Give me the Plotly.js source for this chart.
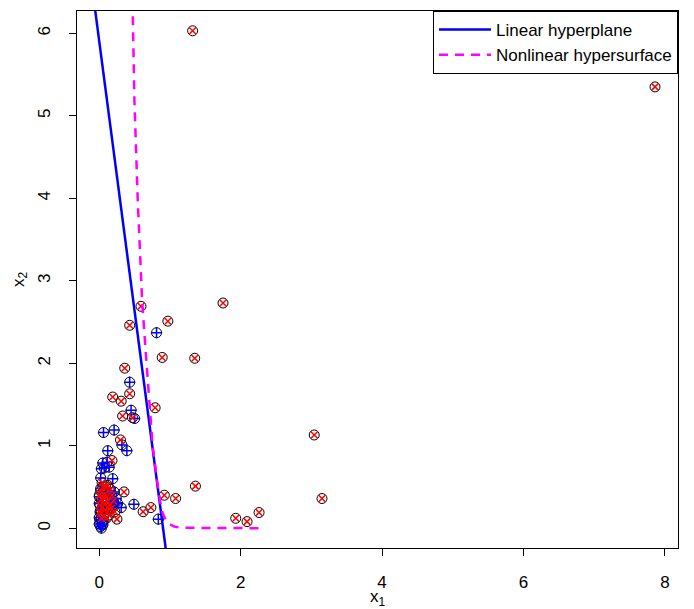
<!DOCTYPE html>
<html>
<head>
<meta charset="utf-8">
<script src="https://cdn.plot.ly/plotly-3.0.1.min.js"></script>
<style>html,body{margin:0;padding:0;background:#fff;}#chart{width:694px;height:609px;}</style>
</head>
<body>
<div id="chart"></div>
<script>
// Class "x" (red) points
const redX1 = [1.32, 7.86, 0.59, 1.75, 0.43, 0.97, 0.89, 1.35, 0.36, 0.79, 0.43, 0.19, 0.31, 0.33, 0.47, 3.04, 0.30, 0.18, 1.36, 3.15, 0.92, 1.08, 0.62, 0.73, 0.35, 0.25, 1.93, 2.09, 2.26,
  0.02, 0.05, 0.08, 0.03, 0.10, 0.06, 0.12, 0.15, 0.04, 0.08, 0.11, 0.02, 0.14, 0.06, 0.18, 0.22, 0.20, 0.01, 0.09, 0.16, 0.13, 0.07, 0.03, 0.10, 0.00, 0.04, 0.12, 0.17, 0.01];
const redX2 = [6.03, 5.35, 2.69, 2.73, 2.46, 2.51, 2.07, 2.06, 1.94, 1.46, 1.63, 1.59, 1.54, 1.36, 1.34, 1.13, 1.07, 0.82, 0.51, 0.36, 0.40, 0.36, 0.20, 0.25, 0.44, 0.11, 0.12, 0.08, 0.19,
  0.45, 0.50, 0.42, 0.35, 0.38, 0.30, 0.33, 0.28, 0.25, 0.22, 0.20, 0.18, 0.16, 0.14, 0.40, 0.20, 0.33, 0.28, 0.50, 0.47, 0.25, 0.36, 0.12, 0.12, 0.40, 0.55, 0.52, 0.24, 0.20];
// Class "+" (blue) points
const blueX1 = [0.81, 0.43, 0.45, 0.50, 0.06, 0.21, 0.32, 0.39, 0.12, 0.05, 0.11, 0.07, 0.14, 0.03, 0.02, 0.19, 0.02, 0.21, 0.49, 0.835, 0.31, 0.21, 0.26, 0.17, 0.24,
  0.00, 0.02, 0.04, 0.01, 0.03, 0.05, 0.00, 0.06, 0.00, 0.02, 0.12, 0.00];
const blueX2 = [2.37, 1.77, 1.43, 1.33, 1.16, 1.19, 1.01, 0.94, 0.94, 0.79, 0.80, 0.73, 0.74, 0.72, 0.61, 0.60, 0.48, 0.44, 0.29, 0.11, 0.25, 0.28, 0.30, 0.32, 0.36,
  0.05, 0.02, 0.08, 0.10, 0.00, 0.04, 0.13, 0.09, 0.30, 0.22, 0.42, 0.38];
// Linear hyperplane endpoints
const linX1 = [-0.10, 1.00];
const linX2 = [6.554, -0.64];
// Nonlinear hypersurface
const nonX1 = [0.47, 0.497, 0.544, 0.58, 0.606, 0.66, 0.71, 0.756, 0.817, 0.86, 0.897, 0.94, 0.99, 1.06, 1.15, 2.28];
const nonX2 = [6.40, 5.19, 3.98, 3.16, 2.76, 2.10, 1.47, 0.985, 0.58, 0.33, 0.18, 0.10, 0.05, 0.02, 0.005, 0.0];
const xTicks = [0, 2, 4, 6, 8];
const yTicks = [0, 1, 2, 3, 4, 5, 6];

const FONT = 'Liberation Sans, Arial, Helvetica, sans-serif';
const traces = [
  {x: redX1.concat(blueX1), y: redX2.concat(blueX2), mode: 'markers', type: 'scatter', showlegend: false, hoverinfo: 'skip',
   marker: {symbol: 'circle-open', size: 10, color: '#000', line: {width: 1, color: '#000'}}},
  {x: blueX1, y: blueX2, mode: 'markers', type: 'scatter', showlegend: false,
   marker: {symbol: 'cross-thin-open', size: 8, color: '#0000ff', line: {width: 1.5, color: '#0000ff'}}},
  {x: redX1, y: redX2, mode: 'markers', type: 'scatter', showlegend: false,
   marker: {symbol: 'x-thin-open', size: 7, color: '#ff0000', line: {width: 1.5, color: '#ff0000'}}},
  {x: linX1, y: linX2, mode: 'lines', type: 'scatter', name: 'Linear hyperplane',
   line: {color: '#0000ff', width: 2.5}},
  {x: nonX1, y: nonX2, mode: 'lines', type: 'scatter', name: 'Nonlinear hypersurface',
   line: {color: '#ff00ff', width: 2.5, dash: '9px,7px'}}
];

const layout = {
  width: 694, height: 609,
  margin: {l: 77, r: 16, t: 11, b: 61},
  paper_bgcolor: '#fff', plot_bgcolor: '#fff',
  font: {family: FONT, size: 17, color: '#000'},
  showlegend: true,
  legend: {x: 1, y: 1, xanchor: 'right', yanchor: 'top', bgcolor: '#fff', bordercolor: '#000', borderwidth: 1,
           font: {family: FONT, size: 17, color: '#000'}, tracegroupgap: 0, itemwidth: 52},
  xaxis: {range: [-0.315, 8.185], tickvals: xTicks, ticktext: xTicks.map(String), ticks: 'outside', ticklen: 7, tickcolor: '#000',
          showline: true, mirror: true, linecolor: '#000', linewidth: 1, showgrid: false, zeroline: false,
          ticklabelstandoff: 12, tickfont: {size: 17},
          title: {text: 'x<sub>1</sub>', font: {size: 17}, standoff: 9}},
  yaxis: {range: [-0.24, 6.27], tickvals: yTicks, ticktext: yTicks.map(String), ticks: 'outside', ticklen: 7, tickcolor: '#000',
          tickangle: -90, showline: true, mirror: true, linecolor: '#000', linewidth: 1, showgrid: false, zeroline: false,
          ticklabelstandoff: 12, tickfont: {size: 17},
          title: {text: 'x<sub>2</sub>', font: {size: 17}, standoff: 6}}
};
Plotly.newPlot('chart', traces, layout, {displayModeBar: false, staticPlot: true});
</script>
</body>
</html>
